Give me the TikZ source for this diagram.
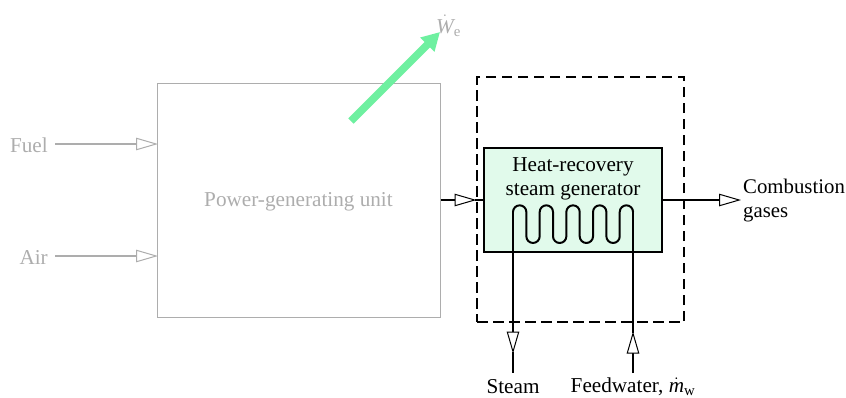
\documentclass[tikz,border=0pt]{standalone}
\usepackage{fontspec}
\setmainfont{Liberation Serif}
\usepackage{amsmath}
\usetikzlibrary{arrows.meta,positioning}
\definecolor{faded}{gray}{0.68}
\definecolor{powerarrow}{RGB}{110,240,160}
\definecolor{hrsgfill}{RGB}{225,250,235}
\tikzset{
  open tip/.style={-{Triangle[length=22pt,width=12.5pt,fill=white,line width=1pt]},shorten >=-1.5pt},
  stream/.style={draw=faded,line width=1.3pt,open tip},
  pipe/.style={line width=2pt},
  flow/.style={pipe,open tip},
}

\begin{document}
\begin{tikzpicture}[x=1pt,y=-1pt,every node/.style={font=\fontsize{21.2}{24}\selectfont,inner sep=0pt}]
\useasboundingbox (0,0) rectangle (846,397);
% power-generating unit, faded
\node[draw=faded,line width=1pt,minimum width=283pt,minimum height=234pt] (pgu) at (298.5,200) {};
\node[text=faded] (pguname) at (298.5,201.5) {Power-generating unit};
\node[text=faded,anchor=east,inner xsep=7pt,text height=16pt,text depth=0pt] (fuel) at (55,144) {Fuel};
\node[text=faded,anchor=east,inner xsep=7pt,text height=16pt,text depth=0pt] (air) at (55,256) {Air};
\draw[stream] (fuel.east) -- (fuel.east -| pgu.west);
\draw[stream] (air.east) -- (air.east -| pgu.west);
\coordinate (wstart) at (351,121);
\node[text=faded,anchor=south west] (work) at (436,36.5) {$\dot{\textit{W}}_{\mathrm{e}}$};
\draw[draw=powerarrow,line width=7.5pt,-{Triangle[length=18pt,width=19pt,fill=powerarrow]}] (wstart) -- (440,32);
% heat-recovery steam generator
\node[draw,dashed,dash pattern=on 10.5pt off 5.5pt,line width=1.1pt,minimum width=207pt,minimum height=245pt] (cv) at (580.5,199.5) {};
\node[draw,fill=hrsgfill,line width=1.2pt,minimum width=178pt,minimum height=104pt] (hrsg) at (573,200) {};
\node[align=center] (hrsgname) at (573,179) {Heat-recovery\\steam generator};
\node[align=left,anchor=west,inner xsep=3.5pt,font=\fontsize{20.8}{24}\selectfont] (gases) at (739.5,200.5) {Combustion\\gases};
\node (steam) at (513,387) {Steam};
\node (feed) at (633,387) {Feedwater, $\dot{\textit{m}}_{\mathrm{w}}$};
\coordinate (coilin) at (513,212);
\coordinate (coilout) at (633,212);
\coordinate (steamtip) at (513,352);
\coordinate (feedtip) at (633,333);
\coordinate (steamend) at (513,373);
\coordinate (feedend) at (633,373);
\coordinate (hrsgtip) at (475,200);
\draw[pipe] (coilin) \foreach \n in {1,...,4}{
    arc[start angle=180,end angle=360,radius=6.67] -- ++(0,24.3)
    arc[start angle=180,end angle=0,radius=6.67] -- ++(0,-24.3)}
  arc[start angle=180,end angle=360,radius=6.67];
\draw[flow] (coilin) -- (steamtip);
\draw[pipe] (steamtip) -- (steamend);
\draw[flow] (feedend) -- (feedtip);
\draw[pipe] (feedtip) -- (coilout);
\draw[flow] (pgu.east) -- (hrsgtip);
\draw[pipe] (hrsgtip) -- (hrsg.west);
\draw[flow] (hrsg.east) -- (hrsg.east -| gases.west);
\end{tikzpicture}
\end{document}
